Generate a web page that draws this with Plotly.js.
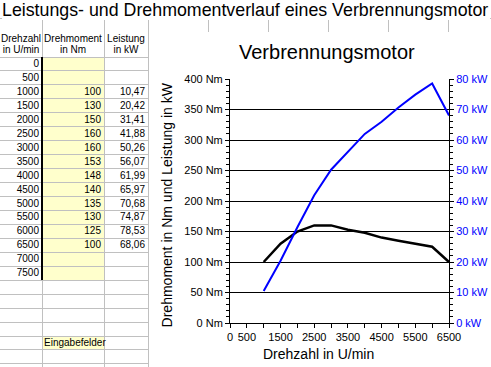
<!DOCTYPE html>
<html>
<head>
<meta charset="utf-8">
<script src="https://cdn.plot.ly/plotly-3.0.1.min.js"></script>
<style>
  html, body { margin:0; padding:0; background:#fff; }
  body { width:491px; height:367px; position:relative; overflow:hidden; font-family: Arial, "Liberation Sans", sans-serif; }
  .hl { position:absolute; height:1px; background:#c0c0c0; }
  .vl { position:absolute; width:1px; background:#c0c0c0; }
  .cell { position:absolute; font-size:10px; line-height:12px; color:#000; white-space:nowrap; }
  #chart { position:absolute; left:149px; top:32px; width:342px; height:335px; background:#fff; }
</style>
</head>
<body>
<div id="sheet"></div>
<div id="chart"></div>
<script>
// ---------------- data ----------------
const sheetTitle = "Leistungs- und Drehmomentverlauf eines Verbrennungsmotor";
const chartTitle = "Verbrennungsmotor";
const headers = [["Drehzahl", "in U/min"], ["Drehmoment", "in Nm"], ["Leistung", "in kW"]];
const rpm    = [0, 500, 1000, 1500, 2000, 2500, 3000, 3500, 4000, 4500, 5000, 5500, 6000, 6500, 7000, 7500];
const torque = [null, null, 100, 130, 150, 160, 160, 153, 148, 140, 135, 130, 125, 100, null, null];
const power  = [null, null, 10.47, 20.42, 31.41, 41.88, 50.26, 56.07, 61.99, 65.97, 70.68, 74.87, 78.53, 68.06, null, null];
const xTickVals   = [0, 500, 1000, 1500, 2000, 2500, 3000, 3500, 4000, 4500, 5000, 5500, 6000, 6500];
const xTickLabels = ["0", "500", "", "1500", "", "2500", "", "3500", "", "4500", "", "5500", "", "6500"];
const inputLabel = "Eingabefelder";
const xTitle = "Drehzahl in U/min";
const yTitle = "Drehmoment in Nm und Leistung in kW";

// ---------------- spreadsheet ----------------
const sheet = document.getElementById('sheet');
function add(cls, style, text) {
  const d = document.createElement('div');
  d.className = cls;
  Object.assign(d.style, style);
  if (text !== undefined) d.textContent = text;
  sheet.appendChild(d);
  return d;
}
const colX = [0, 42, 104, 148, 208, 268, 328, 388, 448];
const rowTop0 = 57, rowH = 13.95;
// yellow input cells
add('', {position:'absolute', left:'42px', top:rowTop0+'px', width:'62px', height:(rowH*rpm.length)+'px', background:'#ffffcc'});
add('', {position:'absolute', left:'42px', top:(rowTop0+20*rowH)+'px', width:'62px', height:rowH+'px', background:'#ffffcc'});
// horizontal grid lines
add('hl', {left:'0px', top:'18px', width:'491px'});
for (let k = 0; rowTop0 + k*rowH < 367; k++) {
  add('hl', {left:'0px', top:Math.round(rowTop0 + k*rowH - 0.5)+'px', width:'148px'});
}
// vertical grid lines
colX.slice(1).forEach(x => add('vl', {left:x+'px', top:'18px', height:(x <= 148 ? 349 : 14)+'px'}));
// thick border
add('', {position:'absolute', left:'41px', top:rowTop0+'px', width:'2px', height:Math.round(rowH*rpm.length)+'px', background:'#000'});
// title
add('cell', {left:'2px', top:'0px', fontSize:'17.8px', lineHeight:'20px', background:'#fff', paddingRight:'2px'}, sheetTitle);
// headers
headers.forEach((h, i) => {
  const w = colX[i+1] - colX[i];
  add('cell', {left:colX[i]+'px', top:'33px', width:w+'px', textAlign:'center'}, h[0]);
  add('cell', {left:colX[i]+'px', top:'44px', width:w+'px', textAlign:'center'}, h[1]);
});
// rows
const fmt = v => v.toFixed(2).replace('.', ',');
rpm.forEach((r, k) => {
  const top = (rowTop0 + k*rowH + 1) + 'px';
  add('cell', {left:'0px', top:top, width:'39px', textAlign:'right'}, String(r));
  if (torque[k] !== null) add('cell', {left:'42px', top:top, width:'59px', textAlign:'right'}, String(torque[k]));
  if (power[k] !== null) add('cell', {left:'104px', top:top, width:'41px', textAlign:'right'}, fmt(power[k]));
});
add('cell', {left:'44px', top:(rowTop0 + 20*rowH + 1)+'px'}, inputLabel);

// ---------------- chart ----------------
const traces = [
  {x: rpm, y: torque, type:'scatter', mode:'lines', line:{color:'#000000', width:2.5}, yaxis:'y', connectgaps:false, hoverinfo:'skip'},
  {x: rpm, y: power, type:'scatter', mode:'lines', line:{color:'#0000ff', width:2}, yaxis:'y2', connectgaps:false, hoverinfo:'skip'}
];
const layout = {
  width: 342, height: 335,
  margin: {l:81, r:42, t:47, b:44, pad:0},
  paper_bgcolor:'#ffffff', plot_bgcolor:'#ffffff',
  showlegend:false,
  font:{family:'Arial, "Liberation Sans", sans-serif', size:11, color:'#000'},
  xaxis:{
    range:[0, 6500], tickmode:'array', tickvals:xTickVals, ticktext:xTickLabels,
    ticks:'outside', ticklen:4, tickcolor:'#000', tickwidth:1,
    showline:true, linecolor:'#000', linewidth:1, showgrid:false, zeroline:false,
    tickfont:{size:11, color:'#000'}, fixedrange:true
  },
  yaxis:{
    range:[0, 400], tickmode:'linear', tick0:0, dtick:50, ticksuffix:' Nm',
    ticks:'outside', ticklen:4, tickcolor:'#000',
    showline:true, linecolor:'#000', linewidth:1,
    showgrid:true, gridcolor:'#000', gridwidth:1, zeroline:false,
    minor:{dtick:10, tick0:0, ticks:'outside', ticklen:3, tickcolor:'#000', showgrid:false},
    tickfont:{size:11, color:'#000'}, fixedrange:true
  },
  yaxis2:{
    overlaying:'y', side:'right', anchor:'x',
    range:[0, 80], tickmode:'linear', tick0:0, dtick:10, ticksuffix:' kW',
    ticks:'outside', ticklen:4, tickcolor:'#000',
    showline:true, linecolor:'#000', linewidth:1,
    showgrid:false, zeroline:false,
    minor:{dtick:2, tick0:0, ticks:'outside', ticklen:3, tickcolor:'#000', showgrid:false},
    tickfont:{size:11, color:'#0000ff'}, fixedrange:true
  },
  annotations:[
    {text:chartTitle, xref:'paper', yref:'paper', x:0.445, y:1, yshift:27, xanchor:'center', yanchor:'middle', showarrow:false, font:{size:20, color:'#000'}},
    {text:xTitle, xref:'paper', yref:'paper', x:0.405, y:0, yshift:-31, xanchor:'center', yanchor:'middle', showarrow:false, font:{size:14, color:'#000'}},
    {text:yTitle, xref:'paper', yref:'paper', x:0, xshift:-63.5, y:0.484, xanchor:'center', yanchor:'middle', textangle:-90, showarrow:false, font:{size:14, color:'#000'}}
  ]
};
Plotly.newPlot('chart', traces, layout, {displayModeBar:false, staticPlot:true});
</script>
</body>
</html>
